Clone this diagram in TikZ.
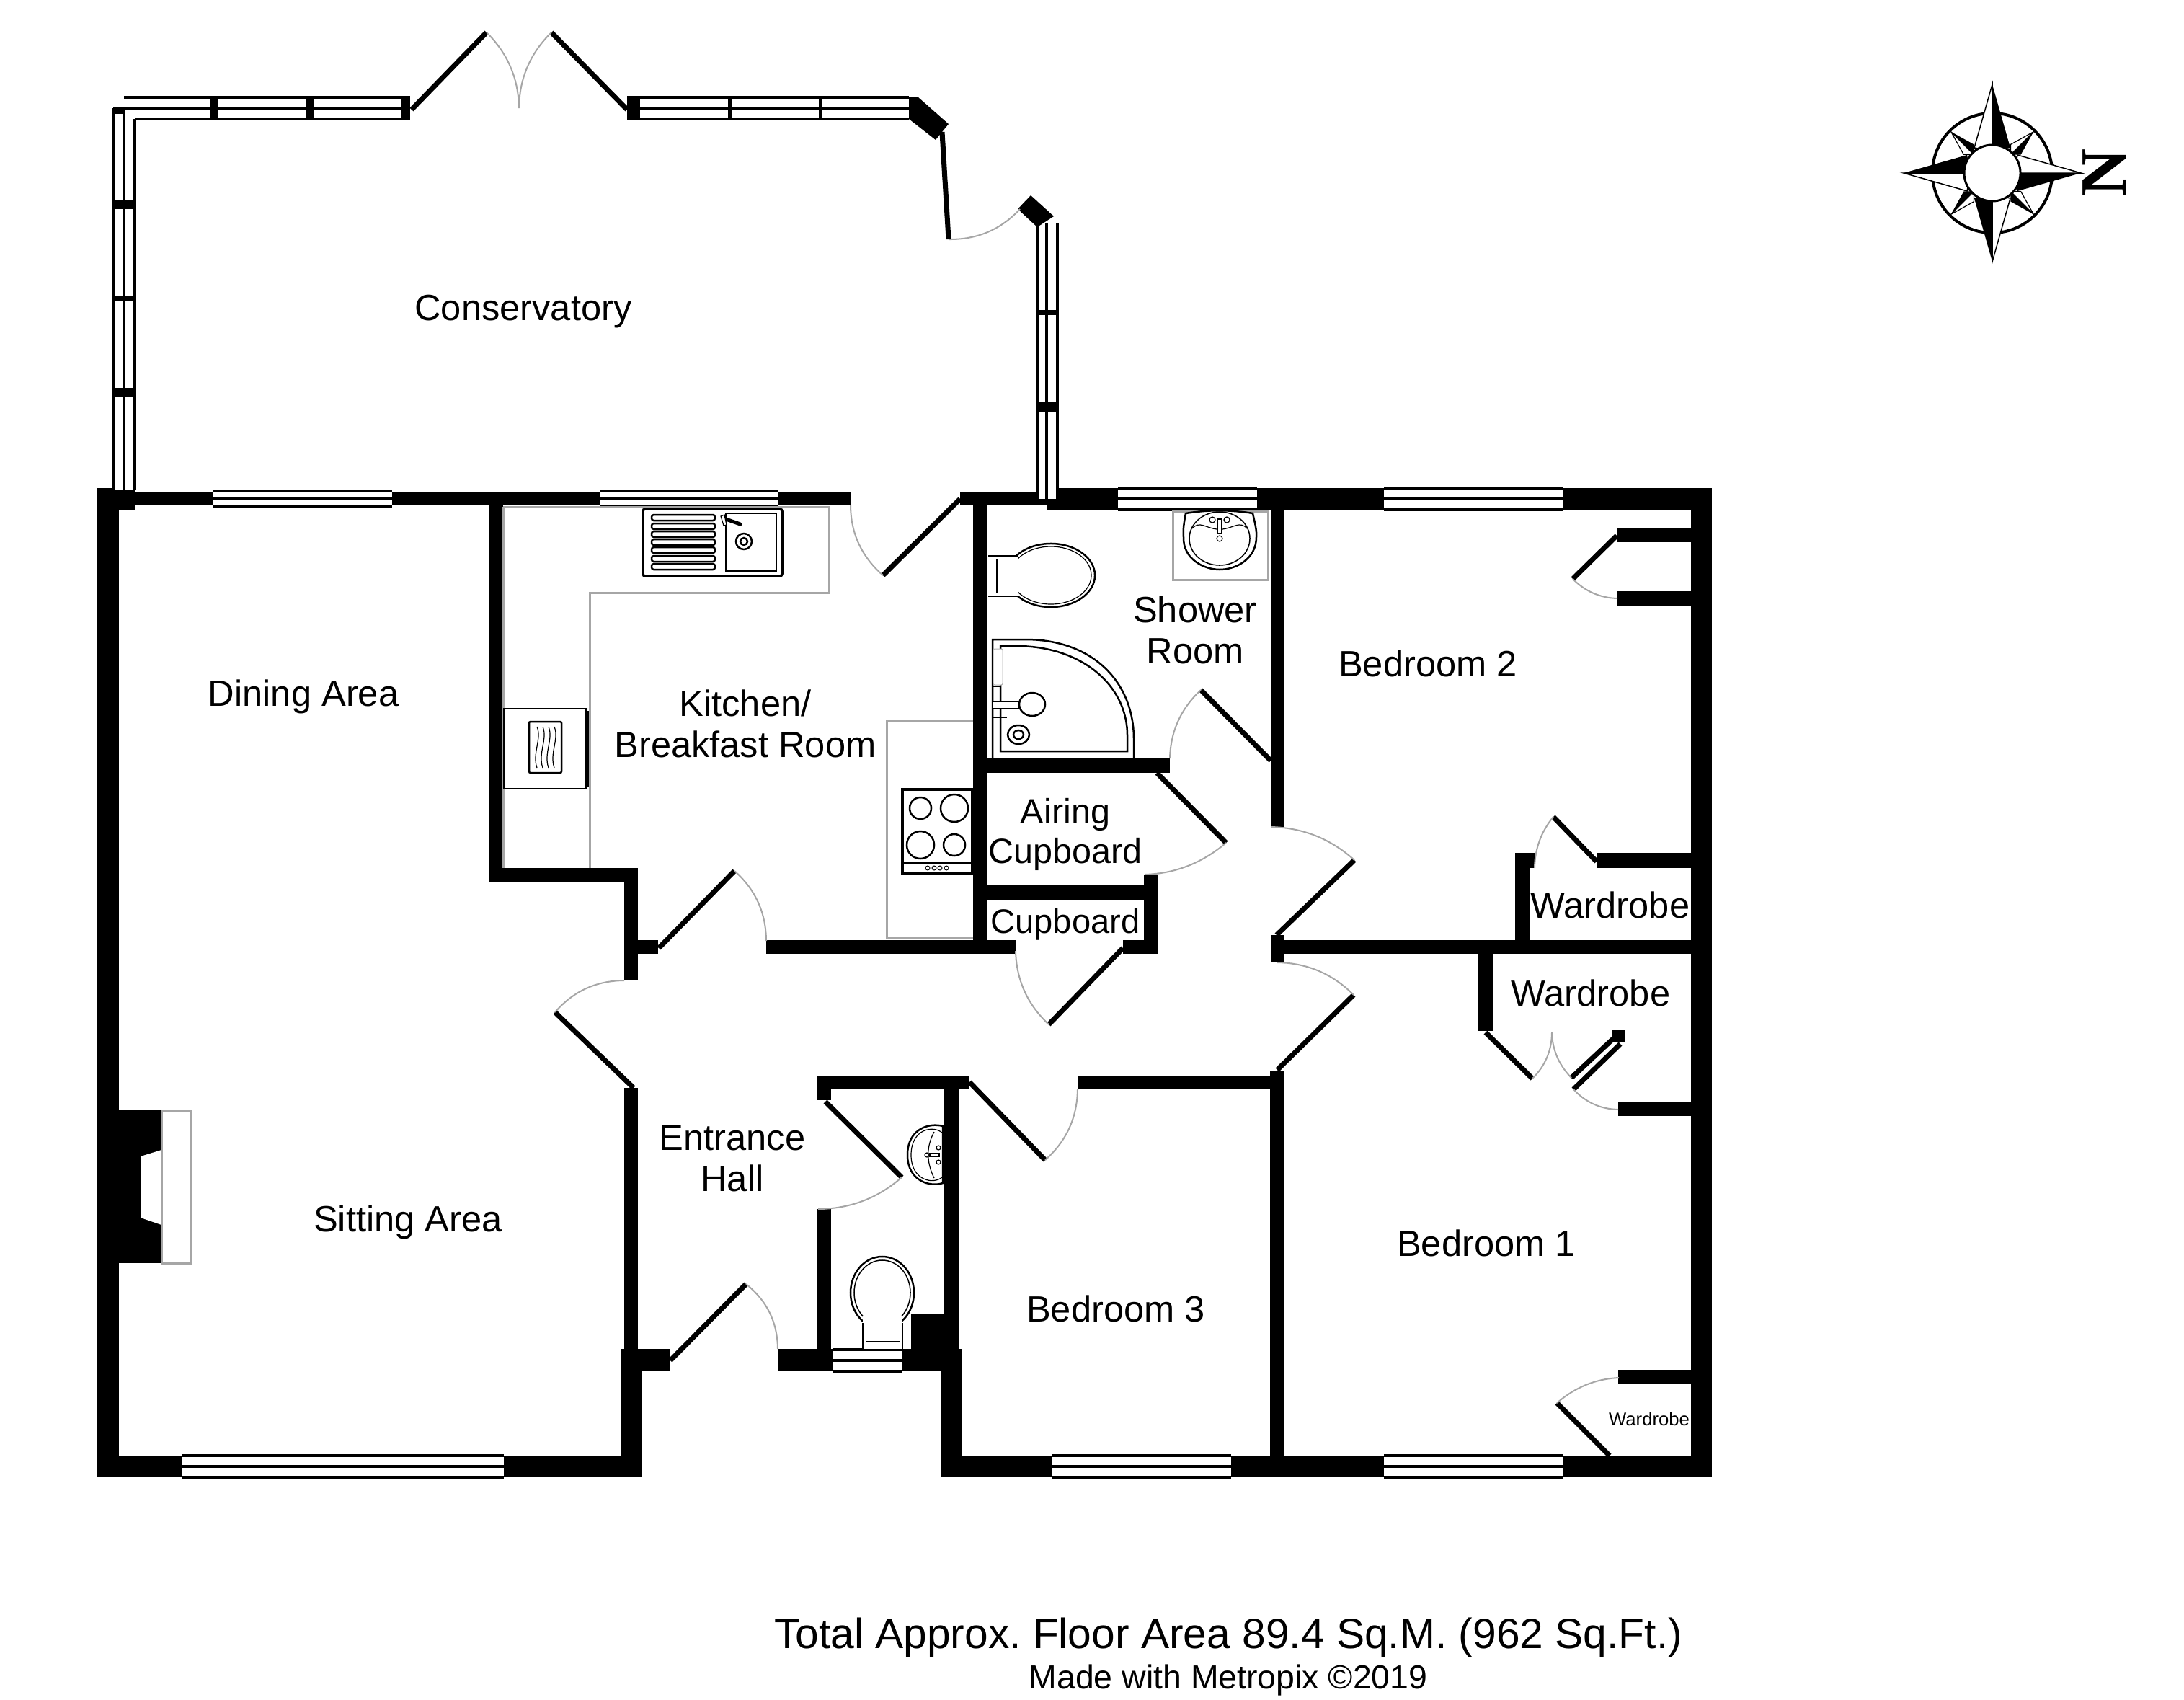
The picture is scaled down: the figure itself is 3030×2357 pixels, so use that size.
\documentclass[tikz,border=0pt]{standalone}
\usepackage{fontspec}
\setmainfont{Liberation Sans}
\newfontfamily\northfont{Liberation Serif}
\usetikzlibrary{calc}
\frenchspacing

\tikzset{
  leaf/.style={line width=0.07cm},
  swing/.style={line width=0.02cm,color=gray!70},
  glazing/.style={line width=0.035cm},
  fitting/.style={line width=0.025cm},
  unit/.style={line width=0.03cm,color=gray!70},
  room/.style={font=\fontsize{14.4}{16}\selectfont,inner sep=0pt,anchor=base,align=center},
}

% door leaf and its swing: hinge, tip, jamb
\newcommand{\doorswing}[3]{
  \draw[leaf] (#1) -- (#2);
  \draw[swing] (#2) .. controls ($0.7233*(#2)+0.39*(#3)-0.1133*(#1)$) and ($0.7233*(#3)+0.39*(#2)-0.1133*(#1)$) .. (#3);
}
% windows: from, to, and the three lines across
\newcommand{\hwindow}[5]{
  \fill[white] (#1,#3) rectangle (#2,#5);
  \draw[glazing] (#1,#3) -- (#2,#3) (#1,#4) -- (#2,#4) (#1,#5) -- (#2,#5);
}
\newcommand{\vwindow}[5]{
  \fill[white] (#3,#1) rectangle (#5,#2);
  \draw[glazing] (#3,#1) -- (#3,#2) (#4,#1) -- (#4,#2) (#5,#1) -- (#5,#2);
}

\begin{document}
\begin{tikzpicture}[x=0.01cm,y=-0.01cm]
\useasboundingbox (0,0) rectangle (3030,2357);

% Walls
\foreach \xa/\ya/\xb/\yb in {135/677/165/2049,135/677/187/707,187/682/1181/701,679/701/698/1223,
  679/1204/885/1223,866/1204/885/1359,885/1304/913/1323,1063/1304/1409/1323,1558/1304/1606/1323,
  1587/1213/1606/1323,1370/1228/1587/1248,1370/1052/1623/1072,1350/701/1370/1323,1332/682/1453/701,
  1453/677/2375/707,1763/707/1782/1147,2346/677/2375/2049,2244/732/2346/752,2244/820/2346/840,
  2215/1183/2346/1204,2102/1183/2129/1204,2102/1183/2122/1304,1763/1297/1782/1335,1782/1304/2346/1323,
  2051/1323/2071/1430,2245/1528/2346/1548,2245/1900/2346/1920,1306/2019/2375/2049,1762/1485/1782/2019,
  1495/1492/1762/1511,1134/1492/1345/1511,1134/1492/1153/1526,1134/1677/1153/1871,1310/1511/1330/1871,
  1264/1823/1330/1871,1306/1871/1335/2049,1080/1871/1306/1901,866/1509/885/1871,861/1871/891/2049,
  861/1871/929/1901,135/2019/891/2049,165/1540/224/1752}
  \fill (\xa,\ya) rectangle (\xb,\yb);

% Fireplace
\fill[white] (224,1595) -- (195,1604) -- (195,1689) -- (224,1699) -- cycle;
\draw[unit,fill=white] (224,1540) rectangle (265,1752);

% Windows in the house
\hwindow{295}{544}{681}{692}{703}
\hwindow{832}{1080}{681}{692}{703}
\hwindow{1551}{1744}{677}{692}{707}
\hwindow{1920}{2168}{677}{692}{707}
\hwindow{253}{699}{2019}{2034}{2049}
\hwindow{1460}{1708}{2019}{2034}{2049}
\hwindow{1920}{2169}{2019}{2034}{2049}
\hwindow{1156}{1252}{1872}{1887}{1902}

% Conservatory glazing
\fill[white] (172,135) rectangle (569,165);
\fill[white] (157,150) rectangle (187,680);
\draw[glazing] (172,135) -- (569,135) (157,150) -- (569,150) (187,165) -- (569,165);
\draw[glazing] (157,150) -- (157,680) (172,150) -- (172,680) (187,165) -- (187,680);
\hwindow{870}{1261}{135}{150}{165}
\vwindow{310}{692}{1439}{1452}{1467}
\foreach \xa/\xb in {292/303,424/435,556/569,870/888,1010/1015,1136/1140}
  \fill (\xa,135) rectangle (\xb,165);
\foreach \ya/\yb in {278/290,411/418,538/550}
  \fill (157,\ya) rectangle (187,\yb);
\fill (157,150) rectangle (172,158);
\foreach \ya/\yb in {430/437,558/571}
  \fill (1439,\ya) rectangle (1467,\yb);
\fill (1261,135) -- (1274,135) -- (1316,172) -- (1298,194) -- (1261,165) -- cycle;
\fill (1430,271) -- (1462,300) -- (1439,315) -- (1412,290) -- cycle;

% Doors
\doorswing{571,152}{675,45}{720,150}
\doorswing{870,152}{765,45}{720,150}
\doorswing{1307,183}{1316,332}{1415,290}
\doorswing{879,1509}{770,1404}{866,1360}
\doorswing{914,1315}{1019,1208}{1063,1305}
\doorswing{1332,692}{1225,798}{1180,701}
\doorswing{1558,1315}{1455,1421}{1409,1319}
\doorswing{930,1887}{1035,1781}{1079,1871}
\doorswing{1145,1528}{1251,1633}{1135,1677}
\doorswing{1345,1501}{1450,1609}{1495,1511}
\doorswing{1772,1484}{1878,1380}{1772,1335}
\doorswing{1771,1297}{1879,1193}{1763,1147}
\doorswing{1763,1055}{1666,957}{1623,1052}
\doorswing{1605,1072}{1701,1169}{1588,1213}
\doorswing{2243,743}{2182,803}{2244,830}
\doorswing{2215,1195}{2155,1133}{2129,1204}
\doorswing{2061,1432}{2126,1496}{2153,1432}
\doorswing{2241,1438}{2180,1495}{2153,1432}
\doorswing{2248,1448}{2183,1511}{2245,1539}
\doorswing{2233,2019}{2160,1946}{2246,1911}
\fill (2236,1429) rectangle (2255,1446);

% Kitchen units
\draw[unit] (698,703) -- (1150,703) -- (1150,822) -- (818,822) -- (818,1204);
\draw[unit] (698,703) -- (698,1204);
\draw[unit] (1350,999) -- (1230,999) -- (1230,1301) -- (1350,1301);

% Sink
\draw[fitting,line width=0.035cm,fill=white,rounded corners=0.03cm] (892,706) rectangle (1085,799);
\foreach \y in {714,726,737,748,759,771,782}
  \draw[fitting,rounded corners=0.03cm] (904,\y) rectangle (992,\y+8);
\draw[line width=0.012cm] (1007,712) rectangle (1077,792);
\draw[fitting] (1032,751) circle [radius=0.11cm];
\draw[fitting] (1032,751) circle [radius=0.05cm];
\draw[line width=0.05cm,line cap=round] (1007,720) -- (1027,727);
\draw[line width=0.012cm,fill=white] (1000,716) -- (1005,714) -- (1008,728) -- (1004,729) -- cycle;

% Microwave
\draw[line width=0.015cm,fill=white] (699,983) rectangle (813,1094);
\draw[line width=0.012cm] (813,987) rectangle (816,1091);
\draw[fitting,rounded corners=0.02cm] (734,1001) rectangle (779,1072);
\foreach \x in {745,753,761,769}
  \draw[line width=0.012cm] (\x,1008) .. controls (\x+7,1025) and (\x-7,1045) .. (\x,1065);

% Hob
\draw[line width=0.035cm,fill=white] (1252,1095) rectangle (1349,1212);
\draw[line width=0.015cm] (1252,1197) -- (1349,1197);
\foreach \x/\y/\r in {1277/1121/0.15,1324/1121/0.19,1277/1172/0.19,1324/1172/0.15}
  \draw[fitting] (\x,\y) circle [radius=\r cm];
\foreach \x in {1287,1296,1304,1313}
  \draw[line width=0.01cm] (\x,1204) circle [radius=0.03cm];

% Shower room toilet
\draw[fitting] (1458,798) ellipse [x radius=0.61cm,y radius=0.44cm];
\draw[line width=0.012cm] (1458,798) ellipse [x radius=0.56cm,y radius=0.40cm];
\fill[white] (1371,771) rectangle (1412,827);
\draw[fitting] (1371,771) -- (1412,771) (1371,827) -- (1412,827);
\draw[line width=0.012cm] (1383,776) -- (1383,822);

% Shower
\draw[fitting] (1377,1052) -- (1377,887) -- (1423,887) .. controls (1515,887) and (1573,945) .. (1573,1025) -- (1573,1052);
\draw[fitting] (1388,896) -- (1410,896) .. controls (1500,896) and (1564,950) .. (1564,1020) -- (1564,1042) -- (1388,1042) -- cycle;
\draw[line width=0.01cm,color=gray!60,fill=white,rounded corners=0.02cm] (1378,900) rectangle (1391,950);
\draw[line width=0.012cm] (1378,952) -- (1388,952) (1378,995) -- (1397,995);
\draw[fitting,fill=white] (1378,973) -- (1413,973) -- (1413,983) -- (1378,983);
\draw[fitting,fill=white] (1432,977) ellipse [x radius=0.18cm,y radius=0.16cm];
\draw[fitting] (1413,1019) ellipse [x radius=0.15cm,y radius=0.13cm];
\draw[fitting] (1413,1019) ellipse [x radius=0.07cm,y radius=0.06cm];

% Shower room basin
\draw[unit] (1627,709) rectangle (1759,804);
\draw[fitting,fill=white] (1645,712) .. controls (1675,707) and (1708,707) .. (1738,712) .. controls (1740,722) and (1744,735) .. (1743,745)
  .. controls (1743,775) and (1715,790) .. (1692,790) .. controls (1670,790) and (1641,775) .. (1642,745) .. controls (1641,735) and (1643,722) .. (1645,712) -- cycle;
\draw[line width=0.015cm] (1692,747) ellipse [x radius=0.42cm,y radius=0.37cm];
\draw[line width=0.012cm] (1654,733) .. controls (1664,722) and (1672,732) .. (1688,734) (1696,734) .. controls (1712,732) and (1720,722) .. (1730,733);
\draw[line width=0.012cm,fill=white] (1689,720) rectangle (1695,740);
\foreach \x in {1682,1702}
  \draw[line width=0.012cm] (\x,721) circle [radius=0.04cm];
\draw[line width=0.012cm] (1692,747) circle [radius=0.04cm];

% Cloakroom basin
\draw[fitting,fill=white] (1308,1562) .. controls (1290,1557) and (1259,1565) .. (1259,1602) .. controls (1259,1638) and (1290,1647) .. (1308,1641) -- cycle;
\draw[line width=0.012cm] (1308,1572) .. controls (1296,1560) and (1264,1565) .. (1264,1602) .. controls (1264,1638) and (1296,1644) .. (1308,1632);
\draw[line width=0.012cm] (1296,1570) .. controls (1285,1590) and (1285,1612) .. (1296,1634);
\draw[line width=0.012cm] (1290,1600) rectangle (1303,1604);
\draw[line width=0.012cm] (1286,1602) circle [radius=0.03cm];
\foreach \y in {1592,1612}
  \draw[line width=0.012cm] (1302,\y) circle [radius=0.03cm];

% Cloakroom toilet
\draw[fitting] (1224,1793) ellipse [x radius=0.44cm,y radius=0.50cm];
\draw[line width=0.015cm] (1224,1793) ellipse [x radius=0.39cm,y radius=0.45cm];
\fill[white] (1197,1825) rectangle (1252,1871);
\draw[fitting] (1197,1835) -- (1197,1871) (1252,1835) -- (1252,1871);
\draw[line width=0.015cm] (1202,1861) -- (1248,1861);

% Compass
\coordinate (compass) at (2764,240);
\draw[line width=0.04cm] (compass) circle [radius=0.83cm];
\foreach \ang in {45,135,225,315}{
  \begin{scope}[shift={(compass)},rotate=\ang]
    \draw[line width=0.012cm,fill=white] (0,-81) -- (-10,-46) -- (0,-36) -- cycle;
    \fill (0,-81) -- (10,-46) -- (0,-36) -- cycle;
  \end{scope}
}
\foreach \ang in {0,90,180,270}{
  \begin{scope}[shift={(compass)},rotate=\ang]
    \draw[line width=0.015cm,fill=white] (0,-123) -- (-25,-35) -- (0,-30) -- cycle;
    \fill (0,-123) -- (25,-35) -- (0,-30) -- cycle;
  \end{scope}
}
\draw[line width=0.03cm,fill=white] (compass) circle [radius=0.39cm];
\node[font=\northfont\bfseries\fontsize{26}{26}\selectfont,rotate=90,inner sep=0pt] (north) at (2920,239) {N};

% Room names
\node[room] (conservatory) at (726,444) {Conservatory};
\node[room] (dining) at (421,979) {Dining Area};
\node[room] (sitting) at (566,1708) {Sitting Area};
\node[room] (kitchen) at (1034,1050) {Kitchen/\\Breakfast Room};
\node[room] (shower) at (1658,920) {Shower\\Room};
\node[room,font=\fontsize{13.8}{15.6}\selectfont] (airing) at (1478,1197) {Airing\\Cupboard};
\node[room,font=\fontsize{13.4}{15}\selectfont] (cupboard) at (1478,1294) {Cupboard};
\node[room] (hall) at (1016,1652) {Entrance\\Hall};
\node[room] (bedroomtwo) at (1981,938) {Bedroom 2};
\node[room] (bedroomone) at (2062,1742) {Bedroom 1};
\node[room] (bedroomthree) at (1548,1833) {Bedroom 3};
\node[room] (wardrobetwo) at (2234,1273) {Wardrobe};
\node[room] (wardrobeone) at (2207,1395) {Wardrobe};
\node[room,font=\fontsize{7.3}{9}\selectfont] (wardrobesmall) at (2288,1977) {Wardrobe};

% Area note
\node[room,font=\fontsize{16.7}{20}\selectfont] (area) at (1704,2286) {Total Approx. Floor Area 89.4 Sq.M. (962 Sq.Ft.)};
\node[room,font=\fontsize{13.2}{16}\selectfont] (made) at (1704,2342) {Made with Metropix ©2019};

\end{tikzpicture}
\end{document}
